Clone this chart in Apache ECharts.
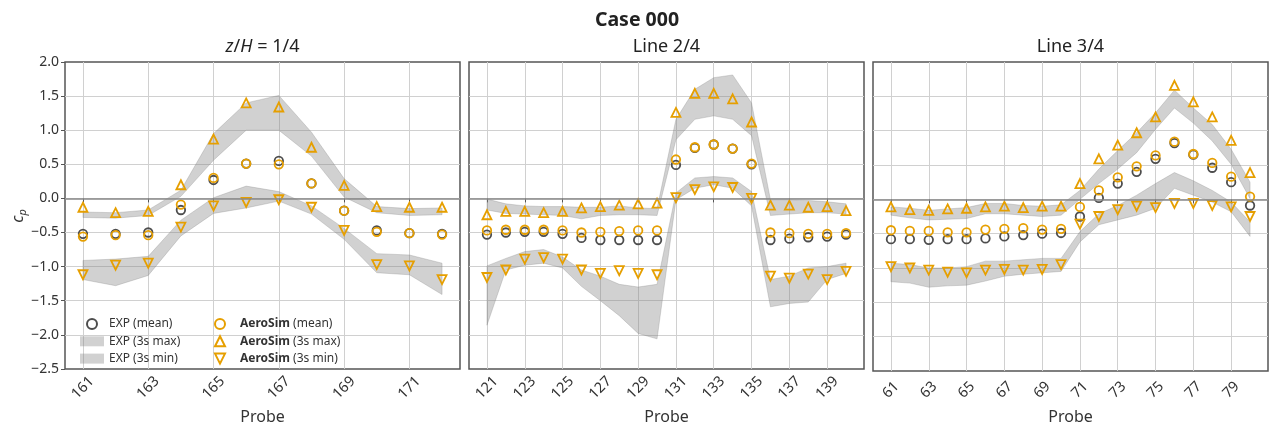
<!DOCTYPE html>
<html>
<head>
<meta charset="utf-8">
<script src="https://cdn.jsdelivr.net/npm/echarts@6/dist/echarts.min.js"></script>
<style>
html,body{margin:0;padding:0;background:#fff;}
#chart{width:1270px;height:430px;}
</style>
</head>
<body>
<div id="chart"></div>
<script>
// ---------------- DATA ----------------
const figTitle = 'Case 000';
const panelTitles = ['{i|z}/{i|H} = 1/4', 'Line 2/4', 'Line 3/4'];

const probes1 = [161,162,163,164,165,166,167,168,169,170,171,172];
const ticks1  = [161,163,165,167,169,171];
const exp1Mean  = [-0.52,-0.52,-0.50,-0.17,0.27,0.51,0.55,0.22,-0.18,-0.47,-0.51,-0.52];
const aero1Mean = [-0.56,-0.54,-0.54,-0.09,0.30,0.51,0.50,0.22,-0.18,-0.49,-0.51,-0.53];
const aero1Max  = [-0.13,-0.21,-0.19,0.20,0.87,1.40,1.34,0.75,0.19,-0.12,-0.13,-0.13];
const aero1Min  = [-1.12,-0.98,-0.95,-0.42,-0.11,-0.06,-0.02,-0.13,-0.47,-0.97,-0.99,-1.19];
const exp1MaxHi = [-0.20,-0.21,-0.17,0.12,0.95,1.40,1.51,0.97,0.29,-0.12,-0.15,-0.14];
const exp1MaxLo = [-0.28,-0.29,-0.25,0.03,0.56,1.00,1.00,0.62,0.02,-0.21,-0.25,-0.24];
const exp1MinHi = [-0.91,-0.89,-0.85,-0.32,0.01,0.18,0.10,-0.11,-0.44,-0.81,-0.83,-0.95];
const exp1MinLo = [-1.19,-1.28,-1.13,-0.55,-0.22,-0.14,-0.04,-0.23,-0.60,-1.09,-1.12,-1.41];

const probes2 = [121,122,123,124,125,126,127,128,129,130,131,132,133,134,135,136,137,138,139,140];
const ticks2  = [121,123,125,127,129,131,133,135,137,139];
const exp2Mean  = [-0.53,-0.50,-0.49,-0.49,-0.52,-0.58,-0.61,-0.61,-0.61,-0.61,0.49,0.74,0.79,0.73,0.50,-0.61,-0.59,-0.57,-0.56,-0.53];
const aero2Mean = [-0.47,-0.46,-0.46,-0.46,-0.47,-0.50,-0.49,-0.48,-0.47,-0.47,0.57,0.75,0.79,0.73,0.51,-0.50,-0.51,-0.52,-0.52,-0.51];
const aero2Max  = [-0.24,-0.19,-0.19,-0.21,-0.19,-0.14,-0.12,-0.10,-0.08,-0.07,1.26,1.54,1.54,1.46,1.12,-0.10,-0.10,-0.13,-0.12,-0.18];
const aero2Min  = [-1.16,-1.05,-0.89,-0.87,-0.89,-1.05,-1.10,-1.06,-1.10,-1.12,0.01,0.13,0.17,0.16,0.00,-1.14,-1.17,-1.11,-1.19,-1.07];
const exp2MaxHi = [-0.01,-0.08,-0.11,-0.12,-0.12,-0.13,-0.13,-0.11,-0.14,-0.15,1.16,1.60,1.77,1.81,1.40,-0.02,-0.02,-0.03,-0.05,-0.08];
const exp2MaxLo = [-0.17,-0.22,-0.23,-0.24,-0.25,-0.30,-0.25,-0.24,-0.24,-0.25,0.86,1.16,1.21,1.16,0.92,-0.25,-0.23,-0.21,-0.21,-0.23];
const exp2MinHi = [-0.99,-0.88,-0.78,-0.75,-0.86,-1.05,-1.14,-1.26,-1.30,-1.26,0.08,0.30,0.32,0.30,0.10,-1.19,-1.14,-1.02,-1.00,-0.95];
const exp2MinLo = [-1.86,-1.05,-0.98,-0.95,-1.02,-1.29,-1.50,-1.72,-1.98,-2.06,-0.02,0.15,0.20,0.15,-0.11,-1.59,-1.54,-1.52,-1.19,-1.10];

const probes3 = [61,62,63,64,65,66,67,68,69,70,71,72,73,74,75,76,77,78,79,80];
const ticks3  = [61,63,65,67,69,71,73,75,77,79];
const exp3Mean  = [-0.58,-0.58,-0.59,-0.58,-0.58,-0.57,-0.54,-0.52,-0.50,-0.49,-0.25,0.02,0.23,0.40,0.59,0.82,0.65,0.46,0.25,-0.09];
const aero3Mean = [-0.45,-0.46,-0.46,-0.48,-0.48,-0.44,-0.43,-0.42,-0.44,-0.43,-0.11,0.13,0.32,0.48,0.64,0.84,0.66,0.53,0.33,0.04];
const aero3Max  = [-0.11,-0.15,-0.16,-0.14,-0.13,-0.11,-0.10,-0.12,-0.10,-0.10,0.23,0.59,0.79,0.97,1.20,1.66,1.42,1.20,0.86,0.39];
const aero3Min  = [-0.98,-1.00,-1.03,-1.06,-1.07,-1.03,-1.02,-1.03,-1.02,-0.95,-0.36,-0.25,-0.15,-0.10,-0.12,-0.06,-0.06,-0.09,-0.11,-0.25];
const exp3MaxHi = [-0.11,-0.13,-0.16,-0.14,-0.12,-0.06,-0.06,-0.09,-0.10,-0.08,0.13,0.44,0.71,0.97,1.26,1.59,1.33,1.09,0.73,0.25];
const exp3MaxLo = [-0.23,-0.27,-0.30,-0.29,-0.28,-0.21,-0.21,-0.23,-0.25,-0.23,0.00,0.23,0.44,0.68,1.02,1.33,1.11,0.85,0.51,0.01];
const exp3MinHi = [-0.93,-0.95,-1.00,-1.00,-0.98,-0.90,-0.90,-0.88,-0.86,-0.86,-0.47,-0.21,-0.09,0.06,0.23,0.39,0.27,0.13,-0.04,-0.33];
const exp3MinLo = [-1.20,-1.22,-1.28,-1.26,-1.25,-1.19,-1.12,-1.09,-1.07,-1.05,-0.62,-0.37,-0.30,-0.23,-0.13,0.16,0.06,-0.04,-0.18,-0.54];

const yTicks = [-2.5,-2.0,-1.5,-1.0,-0.5,0.0,0.5,1.0,1.5,2.0];

// ---------------- STYLE / LAYOUT ----------------
const FONT = '"Noto Sans", "Open Sans", "DejaVu Sans", sans-serif';
const ORANGE = '#E69F00';
const DARK = '#4d4d4d';
const BAND = 'rgba(128,128,128,0.36)';
const gridLefts = [65, 469, 873];
const GRID_W = 395, GRID_TOP = 62, GRID_H = 312;
const DOWN_TRI = 'path://M0,0 L10,0 L5,10 Z';

const panels = [
  {probes: probes1, ticks: ticks1, expMean: exp1Mean, aeroMean: aero1Mean, aeroMax: aero1Max, aeroMin: aero1Min,
   maxHi: exp1MaxHi, maxLo: exp1MaxLo, minHi: exp1MinHi, minLo: exp1MinLo},
  {probes: probes2, ticks: ticks2, expMean: exp2Mean, aeroMean: aero2Mean, aeroMax: aero2Max, aeroMin: aero2Min,
   maxHi: exp2MaxHi, maxLo: exp2MaxLo, minHi: exp2MinHi, minLo: exp2MinLo},
  {probes: probes3, ticks: ticks3, expMean: exp3Mean, aeroMean: aero3Mean, aeroMax: aero3Max, aeroMin: aero3Min,
   maxHi: exp3MaxHi, maxLo: exp3MaxLo, minHi: exp3MinHi, minLo: exp3MinLo}
];

function fmtY(v) {
  const s = Math.abs(v).toFixed(1);
  return v < 0 ? '\u2212' + s : s;
}

function bandRenderer(probes, lo, hi) {
  return function (params, api) {
    if (params.dataIndex !== 0) return null;
    const pts = [];
    for (let i = 0; i < probes.length; i++) pts.push(api.coord([probes[i], hi[i]]));
    for (let i = probes.length - 1; i >= 0; i--) pts.push(api.coord([probes[i], lo[i]]));
    return {
      type: 'polygon',
      shape: { points: pts },
      style: { fill: BAND, stroke: BAND, lineWidth: 0.8 }
    };
  };
}

const grids = [], xAxes = [], yAxes = [], series = [];
panels.forEach((p, k) => {
  grids.push({ left: gridLefts[k], top: GRID_TOP, width: GRID_W, height: GRID_H,
    show: true, borderColor: '#555', borderWidth: 1.5, backgroundColor: 'transparent', containLabel: false });
  const n = p.probes.length;
  const pad = (p.probes[n - 1] - p.probes[0]) * 0.05;
  xAxes.push({
    type: 'value', gridIndex: k, min: p.probes[0] - pad, max: p.probes[n - 1] + pad,
    axisLine: { show: false },
    axisTick: { show: true, customValues: p.ticks, length: 4, lineStyle: { color: '#555' } },
    axisLabel: { customValues: p.ticks, rotate: 45, align: 'center', verticalAlign: 'middle', margin: 19,
      fontSize: 14.5, color: '#333', fontFamily: FONT },
    splitLine: { show: true, lineStyle: { color: '#d0d0d0', width: 1 } },
    name: 'Probe', nameLocation: 'middle', nameGap: 38,
    nameTextStyle: { fontSize: 16, color: '#333', fontFamily: FONT }
  });
  yAxes.push({
    type: 'value', gridIndex: k, min: -2.5, max: 2.0, interval: 0.5,
    axisLine: { show: false },
    axisTick: { show: k === 0, length: 4, lineStyle: { color: '#555' } },
    axisLabel: { show: k === 0, formatter: fmtY, fontSize: 14, color: '#333', margin: 6, fontFamily: FONT },
    splitLine: { show: true, showMinLine: false, showMaxLine: false, lineStyle: { color: '#d0d0d0', width: 1 } }
  });
  const bandData = p.probes.map((x, i) => [x, p.maxLo[i], p.maxHi[i]]);
  const bandData2 = p.probes.map((x, i) => [x, p.minLo[i], p.minHi[i]]);
  series.push({
    type: 'custom', name: 'EXP (3s max)', xAxisIndex: k, yAxisIndex: k, z: 1,
    renderItem: bandRenderer(p.probes, p.maxLo, p.maxHi),
    data: bandData, encode: { x: 0, y: [1, 2] }, itemStyle: { color: BAND },
    markLine: { silent: true, symbol: ['none', 'none'], label: { show: false }, animation: false,
      lineStyle: { color: '#888', width: 1.7, type: 'solid' }, data: [{ yAxis: 0 }] }
  });
  series.push({
    type: 'custom', name: 'EXP (3s min)', xAxisIndex: k, yAxisIndex: k, z: 1,
    renderItem: bandRenderer(p.probes, p.minLo, p.minHi),
    data: bandData2, encode: { x: 0, y: [1, 2] }, itemStyle: { color: BAND }
  });
  const pts = arr => p.probes.map((x, i) => [x, arr[i]]);
  series.push({
    type: 'scatter', name: 'EXP (mean)', xAxisIndex: k, yAxisIndex: k, z: 3,
    symbol: 'circle', symbolSize: 8.5, data: pts(p.expMean),
    itemStyle: { color: 'rgba(0,0,0,0)', borderColor: DARK, borderWidth: 1.8, opacity: 1 }
  });
  series.push({
    type: 'scatter', name: 'AeroSim (mean)', xAxisIndex: k, yAxisIndex: k, z: 4,
    symbol: 'circle', symbolSize: 8.5, data: pts(p.aeroMean),
    itemStyle: { color: 'rgba(0,0,0,0)', borderColor: ORANGE, borderWidth: 1.8, opacity: 1 }
  });
  series.push({
    type: 'scatter', name: 'AeroSim (3s max)', xAxisIndex: k, yAxisIndex: k, z: 4,
    symbol: 'triangle', symbolSize: 9, data: pts(p.aeroMax),
    itemStyle: { color: 'rgba(0,0,0,0)', borderColor: ORANGE, borderWidth: 1.8, opacity: 1 }
  });
  series.push({
    type: 'scatter', name: 'AeroSim (3s min)', xAxisIndex: k, yAxisIndex: k, z: 4,
    symbol: DOWN_TRI, symbolSize: 9, data: pts(p.aeroMin),
    itemStyle: { color: 'rgba(0,0,0,0)', borderColor: ORANGE, borderWidth: 1.8, opacity: 1 }
  });
});

const richB = { b: { fontWeight: 'bold', fontSize: 12, color: '#333', fontFamily: FONT } };
const legendFmt = n => n.indexOf('AeroSim') === 0 ? '{b|AeroSim}' + n.slice(7) : n;

const legends = [
  { left: 75, top: 312, orient: 'vertical', itemGap: 3.3, itemWidth: 24, itemHeight: 10,
    selectedMode: false, formatter: legendFmt,
    textStyle: { fontSize: 12, color: '#333', fontFamily: FONT, lineHeight: 14, rich: richB },
    data: [{ name: 'EXP (mean)' }, { name: 'EXP (3s max)', icon: 'rect' }, { name: 'EXP (3s min)', icon: 'rect' }] },
  { left: 209, top: 312, orient: 'vertical', itemGap: 3.3, itemWidth: 10, itemHeight: 10,
    selectedMode: false, formatter: legendFmt,
    textStyle: { fontSize: 12, color: '#333', fontFamily: FONT, lineHeight: 14, padding: [0, 0, 0, 10], rich: richB },
    data: [{ name: 'AeroSim (mean)' }, { name: 'AeroSim (3s max)' },
           { name: 'AeroSim (3s min)', icon: DOWN_TRI }] }
];

const graphics = [
  { type: 'text', x: 637, y: 20, style: { text: figTitle, font: 'bold 19.5px ' + FONT, fill: '#222',
      textAlign: 'center', textVerticalAlign: 'middle' } },
  { type: 'text', rotation: Math.PI / 2, x: 18, y: 216,
    style: { text: '{c|c}{p|p}', textAlign: 'center', textVerticalAlign: 'middle', fill: '#333',
      rich: { c: { fontStyle: 'italic', fontSize: 16, fontFamily: FONT, fill: '#333' },
              p: { fontStyle: 'italic', fontSize: 11, fontFamily: FONT, fill: '#333', padding: [9, 0, 0, 0] } } } }
];
panelTitles.forEach((t, k) => {
  graphics.push({ type: 'text', x: gridLefts[k] + GRID_W / 2, y: 47,
    style: { text: t, font: '18px ' + FONT, fill: '#222', textAlign: 'center', textVerticalAlign: 'middle',
      rich: { i: { fontStyle: 'italic', fontSize: 18, fontFamily: FONT, fill: '#222' } } } });
});

const chart = echarts.init(document.getElementById('chart'), null, { renderer: 'canvas' });
chart.setOption({
  animation: false,
  backgroundColor: '#fff',
  textStyle: { fontFamily: FONT },
  grid: grids, xAxis: xAxes, yAxis: yAxes, series: series,
  legend: legends, graphic: graphics
});
</script>
</body>
</html>
